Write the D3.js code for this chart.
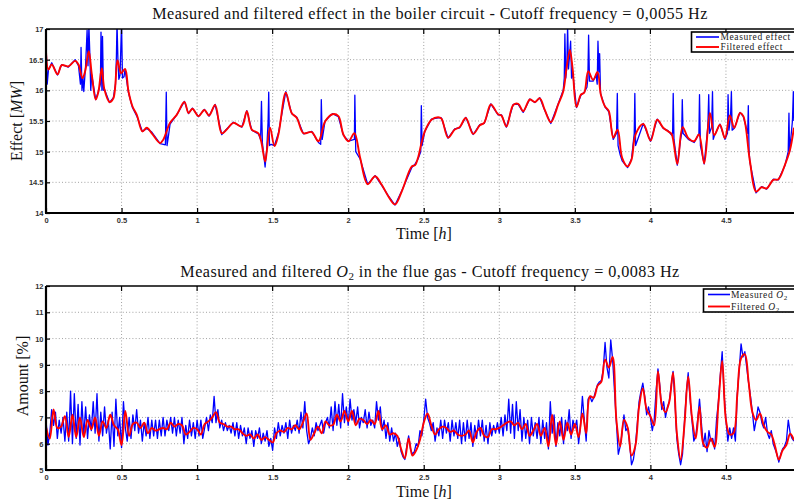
<!DOCTYPE html>
<html>
<head>
<meta charset="utf-8">
<script src="https://cdn.jsdelivr.net/npm/d3@7"></script>
<style>
  html, body { margin: 0; padding: 0; background: #fff; }
  svg { display: block; }
</style>
</head>
<body>
<svg id="chart" width="794" height="500"></svg>
<script>
// ---- Boiler circuit effect [MW]: [time h, value] ----
const effectMeasured = [
  [0,16.80],[0.008,16.10],[0.016,16.33],[0.038,16.45],[0.076,16.25],[0.104,16.42],[0.148,16.38],[0.193,16.50],
  [0.215,16.40],[0.228,16.10],[0.232,16.70],[0.238,16.00],[0.245,16.20],[0.250,15.98],[0.262,16.40],[0.272,16.98],
  [0.278,16.40],[0.284,17.05],[0.290,16.60],[0.296,16.00],[0.303,16.25],[0.329,15.85],[0.347,15.98],[0.360,16.10],
  [0.364,16.95],[0.370,16.00],[0.374,16.88],[0.380,16.00],[0.387,16.02],[0.420,15.80],[0.446,15.88],[0.460,16.10],
  [0.466,16.55],[0.470,17.10],[0.476,16.50],[0.482,16.18],[0.490,16.25],[0.500,17.10],[0.506,16.20],[0.516,16.22],
  [0.523,16.34],[0.546,15.96],[0.572,15.72],[0.601,15.58],[0.638,15.33],[0.667,15.38],[0.700,15.32],[0.755,15.13],
  [0.777,15.12],[0.790,15.11],[0.796,15.97],[0.801,15.10],[0.810,15.25],[0.821,15.45],[0.865,15.60],[0.916,15.82],
  [0.943,15.62],[0.969,15.71],[1.009,15.57],[1.048,15.69],[1.079,15.58],[1.119,15.77],[1.163,15.28],[1.196,15.37],
  [1.240,15.48],[1.296,15.40],[1.329,15.67],[1.362,15.35],[1.406,15.29],[1.420,15.20],[1.426,15.82],[1.432,15.15],
  [1.450,14.75],[1.461,15.05],[1.470,15.50],[1.474,15.97],[1.479,15.10],[1.490,15.12],[1.512,15.10],[1.538,15.30],
  [1.587,15.98],[1.626,15.62],[1.660,15.56],[1.704,15.29],[1.759,15.33],[1.803,15.15],[1.818,15.12],[1.822,15.85],
  [1.828,15.20],[1.847,15.50],[1.896,15.62],[1.935,15.57],[1.968,15.27],[2.002,15.17],[2.041,15.20],[2.044,15.92],
  [2.050,15.00],[2.079,14.88],[2.129,14.47],[2.178,14.61],[2.222,14.45],[2.266,14.28],[2.310,14.13],[2.354,14.36],
  [2.421,14.74],[2.443,14.80],[2.462,14.88],[2.480,15.00],[2.484,15.75],[2.489,15.10],[2.507,15.33],[2.551,15.53],
  [2.595,15.55],[2.617,15.55],[2.661,15.22],[2.705,15.37],[2.738,15.39],[2.778,15.56],[2.827,15.28],[2.871,15.44],
  [2.900,15.46],[2.944,15.78],[2.992,15.60],[3.014,15.60],[3.047,15.40],[3.092,15.77],[3.125,15.77],[3.158,15.64],
  [3.202,15.86],[3.235,15.80],[3.268,15.88],[3.301,15.67],[3.341,15.46],[3.390,15.78],[3.423,16.00],[3.430,16.20],
  [3.434,16.92],[3.440,16.20],[3.447,16.40],[3.452,17.05],[3.458,16.35],[3.466,16.60],[3.472,16.80],[3.478,16.20],
  [3.485,16.30],[3.511,15.72],[3.540,15.92],[3.562,15.97],[3.580,16.05],[3.586,16.20],[3.591,16.90],[3.597,16.15],
  [3.621,16.15],[3.640,16.25],[3.648,16.10],[3.653,16.80],[3.659,16.30],[3.664,16.60],[3.670,15.95],[3.699,15.73],
  [3.725,15.65],[3.754,15.20],[3.776,15.30],[3.781,15.95],[3.786,15.10],[3.800,14.95],[3.813,14.85],[3.849,14.74],
  [3.875,14.88],[3.893,15.30],[3.897,15.95],[3.902,15.10],[3.953,15.46],[4.001,15.17],[4.045,15.53],[4.085,15.38],
  [4.118,15.34],[4.140,15.27],[4.147,15.30],[4.151,15.95],[4.156,15.20],[4.178,14.78],[4.200,15.20],[4.207,15.30],
  [4.211,15.85],[4.216,15.30],[4.251,15.20],[4.290,15.15],[4.321,15.29],[4.325,15.93],[4.331,15.10],[4.356,14.80],
  [4.380,15.40],[4.386,15.93],[4.391,15.30],[4.405,15.40],[4.411,15.98],[4.416,15.20],[4.423,15.26],[4.460,15.45],
  [4.493,15.20],[4.510,15.30],[4.514,15.93],[4.520,15.35],[4.530,15.55],[4.536,15.98],[4.541,15.35],[4.555,15.38],
  [4.593,15.64],[4.615,15.57],[4.644,15.30],[4.648,15.75],[4.653,15.00],[4.659,14.82],[4.699,14.33],[4.736,14.43],
  [4.769,14.39],[4.813,14.55],[4.847,14.54],[4.891,14.78],[4.912,15.00],[4.917,15.63],[4.921,15.00],[4.940,15.50],
  [4.946,15.98],[4.950,15.50]
];

const effectFiltered = [
  [0,16.64],[0.016,16.34],[0.038,16.42],[0.076,16.26],[0.104,16.41],[0.148,16.39],[0.193,16.48],[0.215,16.42],
  [0.241,16.20],[0.259,16.31],[0.283,16.64],[0.303,16.26],[0.329,15.85],[0.347,15.98],[0.369,16.36],[0.387,16.01],
  [0.420,15.81],[0.446,15.87],[0.473,16.49],[0.497,16.28],[0.523,16.35],[0.546,15.98],[0.572,15.74],[0.601,15.60],
  [0.638,15.33],[0.667,15.39],[0.700,15.30],[0.755,15.14],[0.777,15.20],[0.821,15.47],[0.865,15.60],[0.916,15.81],
  [0.943,15.63],[0.969,15.70],[1.009,15.58],[1.048,15.68],[1.079,15.59],[1.119,15.76],[1.163,15.30],[1.196,15.36],
  [1.240,15.47],[1.296,15.41],[1.329,15.66],[1.362,15.36],[1.406,15.30],[1.424,15.17],[1.450,14.84],[1.461,15.00],
  [1.483,15.39],[1.512,15.09],[1.538,15.28],[1.587,15.96],[1.626,15.63],[1.660,15.55],[1.704,15.30],[1.759,15.32],
  [1.803,15.17],[1.847,15.49],[1.896,15.61],[1.935,15.58],[1.968,15.28],[2.002,15.17],[2.041,15.30],[2.079,14.90],
  [2.129,14.47],[2.178,14.60],[2.222,14.46],[2.266,14.27],[2.310,14.14],[2.354,14.35],[2.421,14.76],[2.443,14.78],
  [2.462,14.90],[2.485,15.14],[2.507,15.33],[2.551,15.52],[2.595,15.56],[2.617,15.54],[2.661,15.23],[2.705,15.36],
  [2.738,15.40],[2.778,15.55],[2.827,15.29],[2.871,15.43],[2.900,15.47],[2.944,15.77],[2.992,15.61],[3.014,15.59],
  [3.047,15.41],[3.092,15.76],[3.125,15.78],[3.158,15.66],[3.202,15.85],[3.235,15.81],[3.268,15.87],[3.301,15.68],
  [3.341,15.48],[3.390,15.77],[3.423,15.98],[3.445,16.36],[3.467,16.66],[3.485,16.36],[3.511,15.73],[3.540,15.93],
  [3.562,15.96],[3.588,16.31],[3.621,16.17],[3.650,16.30],[3.672,15.93],[3.699,15.74],[3.725,15.66],[3.754,15.23],
  [3.783,15.36],[3.813,14.90],[3.849,14.76],[3.875,14.87],[3.902,15.28],[3.953,15.45],[4.001,15.18],[4.045,15.52],
  [4.085,15.39],[4.118,15.33],[4.140,15.29],[4.178,14.80],[4.213,15.40],[4.251,15.22],[4.290,15.17],[4.321,15.28],
  [4.356,14.81],[4.394,15.63],[4.423,15.27],[4.460,15.44],[4.493,15.22],[4.526,15.59],[4.555,15.39],[4.593,15.63],
  [4.615,15.58],[4.659,14.84],[4.699,14.35],[4.736,14.42],[4.769,14.40],[4.813,14.54],[4.847,14.55],[4.891,14.79],
  [4.924,15.03],[4.950,15.39]
];

// ---- O2 in flue gas [%]: uniformly sampled series ----
const o2MeasuredStep = 0.0125; // hours between samples
const o2Measured = [
  6.9,5.95,6.4,7.3,6.7,7.2,6.2,6.9,6.4,7.0,6.1,7.2,6.1,8.0,6.0,7.9,6.2,7.5,5.95,7.6,
  6.3,7.4,6.2,7.1,6.5,7.6,6.4,7.9,6.1,7.2,6.3,7.4,6.4,6.9,5.8,7.2,5.9,7.7,6.3,7.0,
  5.85,7.6,6.6,6.1,7.0,6.2,7.1,6.5,7.3,6.4,6.9,6.1,6.8,6.3,7.0,6.2,6.9,6.3,6.9,6.2,
  6.9,6.3,7.0,6.3,6.9,6.5,7.0,6.4,7.0,6.3,6.9,6.4,7.0,6.0,6.7,6.2,6.9,6.3,6.8,6.2,
  6.9,6.3,6.9,6.2,6.6,7.0,6.5,7.1,6.8,7.8,6.8,7.3,6.6,6.9,6.5,6.8,6.5,6.7,6.4,6.8,
  6.3,6.8,6.2,6.7,6.3,6.6,6.0,6.6,6.2,6.5,5.9,6.5,6.2,6.6,6.0,6.4,6.1,6.5,5.9,6.2,
  5.75,6.6,6.2,6.8,6.3,6.7,6.4,6.8,6.2,6.9,6.4,6.7,6.5,6.9,6.4,7.2,6.6,7.6,6.5,6.0,
  6.2,6.6,6.3,6.8,6.5,6.7,6.9,6.4,6.8,7.0,6.6,7.4,6.5,7.6,6.7,7.5,6.6,7.9,6.8,7.4,
  6.7,7.7,6.9,7.3,6.8,7.4,6.6,7.0,6.8,7.3,6.6,7.2,6.7,6.9,6.6,7.6,6.9,7.4,6.5,6.9,
  6.2,6.8,6.1,6.6,6.1,6.4,5.9,6.2,5.7,5.5,5.4,5.9,6.3,5.8,5.6,5.7,6.0,5.9,6.5,6.3,
  6.9,7.7,7.0,6.8,6.5,6.8,6.1,6.6,6.3,6.9,6.2,6.9,6.4,6.8,6.1,6.9,6.3,6.8,6.2,6.9,
  6.0,6.8,6.1,6.9,6.2,6.8,5.9,6.7,6.2,6.9,6.3,6.9,6.1,6.7,6.0,6.8,6.3,6.7,6.4,6.8,
  6.4,7.0,6.3,7.1,6.5,7.7,6.4,7.5,6.2,7.6,6.5,7.3,6.1,7.0,6.2,6.9,6.0,7.0,6.3,6.8,
  6.2,7.0,6.0,6.9,6.2,6.8,5.8,7.6,6.4,7.1,5.9,6.8,6.3,7.0,6.0,6.9,6.5,7.3,6.2,6.9,
  6.6,6.9,6.0,6.7,7.8,6.9,6.1,7.7,7.8,7.6,7.75,8.0,8.25,8.35,8.4,8.8,9.85,8.9,8.5,9.95,
  9.2,8.0,6.8,5.6,5.9,6.4,7.1,6.5,6.6,6.0,5.2,5.4,5.9,6.7,7.6,8.0,8.3,7.8,7.1,7.4,
  7.0,6.5,6.9,8.0,8.85,8.2,7.3,7.6,7.0,7.4,7.6,8.2,8.75,7.6,6.2,5.6,5.2,5.6,6.8,7.9,
  8.7,7.7,6.9,6.1,6.3,6.9,7.7,6.8,5.9,6.4,5.7,6.5,6.1,6.2,5.8,6.9,7.6,8.6,9.5,7.9,
  6.9,6.1,6.6,6.2,6.6,6.1,7.9,8.8,9.8,9.3,9.5,8.9,8.3,7.8,7.2,6.5,6.9,7.4,7.2,6.8,
  6.6,7.0,6.4,6.2,6.5,6.0,5.8,5.6,5.3,5.6,5.8,5.9,6.1,6.9,6.4,6.2,6.1
];

const o2FilteredStep = 0.025; // hours between samples
const o2Filtered = [
  6.64,6.20,7.30,6.60,6.65,7.05,6.25,7.10,6.25,7.00,6.25,6.90,6.55,7.00,6.30,6.85,6.60,7.10,6.70,6.55,
  5.95,7.25,6.30,6.75,6.80,6.60,6.80,6.40,6.60,6.50,6.55,6.60,6.55,6.80,6.65,6.75,6.70,6.35,6.45,6.60,
  6.55,6.35,6.75,6.85,7.00,7.20,6.80,6.75,6.65,6.65,6.55,6.55,6.40,6.30,6.35,6.20,6.35,6.15,6.25,6.15,
  6.05,6.40,6.50,6.45,6.60,6.55,6.70,6.55,6.80,7.15,6.15,6.40,6.65,6.40,6.85,6.70,6.72,7.10,6.85,7.25,
  6.85,7.25,6.70,6.95,6.90,6.75,6.90,6.75,7.25,6.55,6.70,6.35,6.40,6.30,5.80,5.45,6.20,5.55,5.75,6.15,
  6.80,7.15,6.70,6.35,6.55,6.65,6.60,6.45,6.50,6.35,6.30,6.35,6.50,6.05,6.45,6.60,6.30,6.25,6.55,6.55,
  6.60,6.70,6.80,6.85,6.70,6.80,6.55,6.75,6.30,6.50,6.75,6.30,6.60,5.90,7.10,5.95,6.85,6.15,6.80,6.35,
  6.75,6.25,7.15,6.40,7.80,7.75,8.20,8.35,9.20,8.90,9.30,6.90,5.90,6.90,6.60,5.55,5.90,7.40,8.10,7.30,
  7.05,6.70,8.75,7.50,7.20,7.60,8.70,6.40,5.40,6.70,8.55,7.00,6.20,7.40,6.00,5.85,6.20,5.88,7.50,9.15,
  6.90,6.35,6.40,7.85,9.25,9.40,8.35,7.20,6.90,7.15,6.70,6.45,6.35,5.90,5.40,5.75,5.95,6.38,6.14
];

const xTicks = [0, 0.5, 1, 1.5, 2, 2.5, 3, 3.5, 4, 4.5];
const effectTicks = [14, 14.5, 15, 15.5, 16, 16.5, 17];
const o2Ticks = [5, 6, 7, 8, 9, 10, 11, 12];

const BLUE = "#0000ff", RED = "#ff0000";
const SERIF = "'Liberation Serif', 'DejaVu Serif', serif";
const SANS = "'Liberation Sans', Arial, sans-serif";

const svg = d3.select("#chart");

const x = d3.scaleLinear().domain([0, 5]).range([46, 801.5]);

function panel(opts) {
  const { top, bottom, yDomain, yTicks, measured, filtered, clipId } = opts;
  const y = d3.scaleLinear().domain(yDomain).range([bottom, top]);
  const g = svg.append("g");
  const [x0, x1] = x.range();

  g.append("clipPath").attr("id", clipId)
    .append("rect").attr("x", x0).attr("y", top).attr("width", x1 - x0).attr("height", bottom - top);

  // dotted grid
  const grid = g.append("g").attr("stroke", "#8a8a8a").attr("stroke-width", 0.8)
    .attr("stroke-dasharray", "1,2.2");
  xTicks.filter(t => t > 0).forEach(t => {
    grid.append("line").attr("x1", x(t)).attr("x2", x(t)).attr("y1", top).attr("y2", bottom);
  });
  yTicks.filter(v => v > yDomain[0] && v < yDomain[1]).forEach(v => {
    grid.append("line").attr("x1", x0).attr("x2", x1).attr("y1", y(v)).attr("y2", y(v));
  });

  // series: raw samples joined straight, filtered output drawn as a smooth curve
  const rawLine = d3.line().x(d => x(d[0])).y(d => y(d[1]));
  const smoothLine = d3.line().x(d => x(d[0])).y(d => y(d[1])).curve(d3.curveCatmullRom.alpha(0.5));
  const lines = g.append("g").attr("clip-path", `url(#${clipId})`).attr("fill", "none")
    .attr("stroke-linejoin", "round");
  lines.append("path").datum(measured).attr("d", rawLine).attr("stroke", BLUE).attr("stroke-width", 1.3);
  lines.append("path").datum(filtered).attr("d", smoothLine).attr("stroke", RED).attr("stroke-width", 1.9);

  // axes: bottom and left, ticks pointing inward
  const xAxis = d3.axisBottom(x).tickValues(xTicks).tickSize(-5).tickPadding(5)
    .tickFormat(d3.format("~g"));
  const gx = g.append("g").attr("transform", `translate(0,${bottom})`).call(xAxis);
  const yAxis = d3.axisLeft(y).tickValues(yTicks).tickSize(-4).tickPadding(2.5)
    .tickFormat(d3.format("~g"));
  const gy = g.append("g").attr("transform", `translate(${x0},0)`).call(yAxis);
  [gx, gy].forEach(a => {
    a.select(".domain").remove();
    a.selectAll(".tick line").attr("stroke", "#000").attr("stroke-width", 1.2);
    a.selectAll(".tick text").attr("font-family", SANS).attr("font-size", 7.5)
      .attr("fill", "#333").attr("font-weight", "bold");
  });
  gy.selectAll(".tick text").attr("dy", "0.35em");

  // top-edge tick marks pointing down
  xTicks.filter(t => t > 0).forEach(t => {
    g.append("line").attr("x1", x(t)).attr("x2", x(t)).attr("y1", top).attr("y2", top + 5)
      .attr("stroke", "#000").attr("stroke-width", 1.2);
  });

  // frame
  g.append("line").attr("x1", x0).attr("x2", x1).attr("y1", top).attr("y2", top)
    .attr("stroke", "#000").attr("stroke-width", 1.5);
  g.append("line").attr("x1", x0 - 1).attr("x2", x1).attr("y1", bottom).attr("y2", bottom)
    .attr("stroke", "#000").attr("stroke-width", 2.2);
  g.append("line").attr("x1", x0).attr("x2", x0).attr("y1", top).attr("y2", bottom)
    .attr("stroke", "#000").attr("stroke-width", 2.2);

  return { g, y };
}

// ---------- upper panel ----------
panel({
  top: 29, bottom: 213, yDomain: [14, 17], yTicks: effectTicks,
  measured: effectMeasured, filtered: effectFiltered, clipId: "clipEffect"
});

// ---------- lower panel ----------
const o2MeasuredPts = o2Measured.map((v, i) => [i * o2MeasuredStep, v]);
const o2FilteredPts = o2Filtered.map((v, i) => [i * o2FilteredStep, v]);
panel({
  top: 286, bottom: 470, yDomain: [5, 12], yTicks: o2Ticks,
  measured: o2MeasuredPts, filtered: o2FilteredPts, clipId: "clipO2"
});

// ---------- titles & labels ----------
function text(x0, y0, size, anchor) {
  return svg.append("text").attr("x", x0).attr("y", y0).attr("font-family", SERIF)
    .attr("font-size", size).attr("text-anchor", anchor || "middle").attr("fill", "#111");
}

text(430, 19, 16.2).attr("letter-spacing", 0.45)
  .text("Measured and filtered effect in the boiler circuit - Cutoff frequency = 0,0055 Hz");

const t2 = text(430, 277, 16.2).attr("letter-spacing", 0.45);
t2.append("tspan").text("Measured and filtered ");
t2.append("tspan").attr("font-style", "italic").text("O");
t2.append("tspan").attr("font-size", 11).attr("dy", 3).text("2");
t2.append("tspan").attr("dy", -3).text(" in the flue gas - Cutoff frequency = 0,0083 Hz");

function timeLabel(yPos) {
  const t = text(424, yPos, 16);
  t.append("tspan").text("Time [");
  t.append("tspan").attr("font-style", "italic").text("h");
  t.append("tspan").text("]");
}
timeLabel(239);
timeLabel(497);

const e = text(0, 0, 16).attr("transform", "translate(22,121) rotate(-90)");
e.append("tspan").text("Effect [");
e.append("tspan").attr("font-style", "italic").text("MW");
e.append("tspan").text("]");

text(0, 0, 16).attr("transform", "translate(28,376) rotate(-90)").text("Amount [%]");

// ---------- legends ----------
function legend(x0, y0, w, h, items, lx1, lx2, tx) {
  const lg = svg.append("g");
  lg.append("rect").attr("x", x0).attr("y", y0).attr("width", w).attr("height", h)
    .attr("fill", "#fff").attr("stroke", "#000").attr("stroke-width", 1.6);
  items.forEach(it => {
    lg.append("line").attr("x1", lx1).attr("x2", lx2).attr("y1", it.y).attr("y2", it.y)
      .attr("stroke", it.color).attr("stroke-width", it.width);
    const t = lg.append("text").attr("x", tx).attr("y", it.y + 3.3)
      .attr("font-family", SERIF).attr("font-size", 9.5).attr("letter-spacing", 0.6).attr("fill", "#222");
    it.parts.forEach(p => {
      const s = t.append("tspan").text(p.t);
      if (p.i) s.attr("font-style", "italic");
      if (p.sub) s.attr("font-size", 7).attr("dy", 2);
    });
  });
}

legend(691.5, 32, 120, 20, [
  { y: 37, color: BLUE, width: 1.6, parts: [{ t: "Measured effect" }] },
  { y: 47, color: RED, width: 1.9, parts: [{ t: "Filtered effect" }] }
], 696, 719, 720.5);

legend(703.5, 289, 110, 23, [
  { y: 294.5, color: BLUE, width: 1.6, parts: [{ t: "Measured " }, { t: "O", i: true }, { t: "2", sub: true }] },
  { y: 306.5, color: RED, width: 1.9, parts: [{ t: "Filtered " }, { t: "O", i: true }, { t: "2", sub: true }] }
], 708, 730, 731);
</script>
</body>
</html>
